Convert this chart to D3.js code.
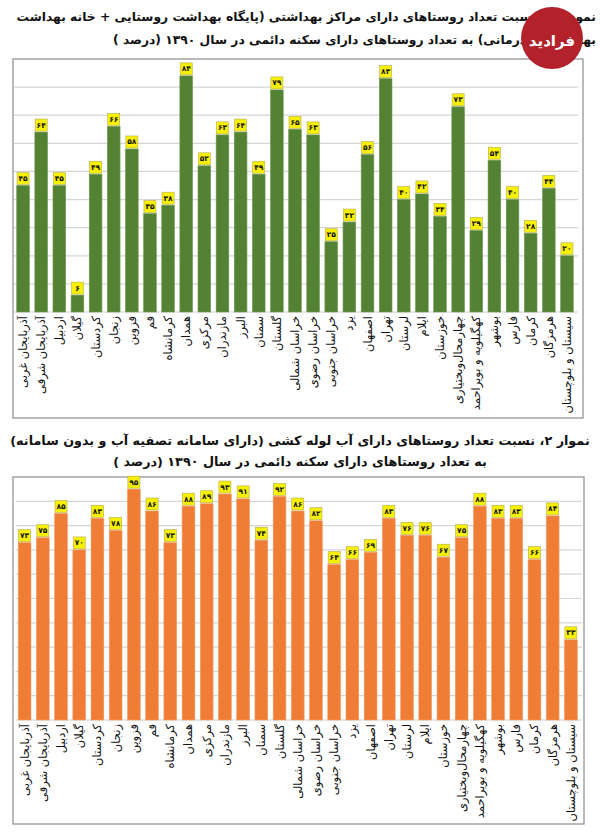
<!DOCTYPE html>
<html>
<head>
<meta charset="utf-8">
<script src="https://cdn.jsdelivr.net/npm/d3@7/dist/d3.min.js"></script>
<style>
  body { margin: 0; background: #fff; }
  svg { display: block; font-family: "DejaVu Sans", sans-serif; }
</style>
</head>
<body>
<div class="viz"></div>
<script>
// provinces, same order in both charts (left to right)
const provinces = [
  "آذربایجان غربی", "آذربایجان شرقی", "اردبیل", "گیلان", "کردستان", "زنجان", "قزوین", "قم",
  "کرمانشاه", "همدان", "مرکزی", "مازندران", "البرز", "سمنان", "گلستان", "خراسان شمالی",
  "خراسان رضوی", "خراسان جنوبی", "یزد", "اصفهان", "تهران", "لرستان", "ایلام", "خوزستان",
  "چهارمحال‌وبختیاری", "کهگیلویه و بویراحمد", "بوشهر", "فارس", "کرمان", "هرمزگان", "سیستان و بلوچستان"
];

// chart 1: villages with health centres (%)
const healthValues = [45, 64, 45, 6, 49, 66, 58, 35, 38, 84, 52, 63, 64, 49, 79, 65,
  63, 25, 32, 56, 83, 40, 42, 34, 73, 29, 54, 40, 28, 44, 20];

// chart 2: villages with piped water (%)
const waterValues = [73, 75, 85, 70, 83, 78, 95, 86, 73, 88, 89, 93, 91, 74, 92, 86,
  82, 64, 66, 69, 83, 76, 76, 67, 75, 88, 83, 83, 66, 84, 33];

const healthTicks = [10, 20, 30, 40, 50, 60, 70, 80];
const waterTicks = [10, 20, 30, 40, 50, 60, 70, 80, 90];

const title1 = [
  "نمودار ۱: نسبت تعداد روستاهای دارای مراکز بهداشتی (پایگاه بهداشت روستایی + خانه بهداشت",
  "بهداشتی و درمانی) به تعداد روستاهای دارای سکنه دائمی در سال ۱۳۹۰ (درصد )"
];
const title2 = [
  "نموار ۲، نسبت تعداد  روستاهای دارای آب لوله کشی (دارای سامانه تصفیه  آب  و بدون سامانه)",
  "به تعداد روستاهای دارای سکنه دائمی در سال ۱۳۹۰ (درصد )"
];

const faDigits = "۰۱۲۳۴۵۶۷۸۹";
const toFa = n => String(n).replace(/\d/g, d => faDigits[d]);

const W = 600, H = 838;

const svg = d3.select(".viz").append("svg")
  .attr("width", W)
  .attr("height", H);

// font size for a title block: its widest line must fit in `span` px
function fitSize(lines, span) {
  let widest = 0;
  lines.forEach(t => {
    const p = svg.append("text")
      .attr("font-size", 15).attr("font-weight", "bold")
      .text(t);
    widest = Math.max(widest, p.node().getComputedTextLength());
    p.remove();
  });
  return widest > 0 ? Math.min(16, 15 * span / widest) : 13;
}

function titleLine(t, x, cy, anchor, size) {
  svg.append("text")
    .attr("x", x)
    .attr("y", cy)
    .attr("text-anchor", anchor)
    .attr("dominant-baseline", "central")
    .attr("font-size", size)
    .attr("font-weight", "bold")
    .attr("fill", "#111")
    .text(t);
}

function drawChart(opt) {
  const g = svg.append("g");

  // frame
  g.append("rect")
    .attr("x", opt.box[0]).attr("y", opt.box[1])
    .attr("width", opt.box[2] - opt.box[0])
    .attr("height", opt.box[3] - opt.box[1])
    .attr("fill", "none")
    .attr("stroke", "#8c8c8c")
    .attr("stroke-width", 1.2);

  const x = d3.scaleBand()
    .domain(provinces)
    .range(opt.xRange)
    .paddingInner(0.3)
    .paddingOuter(0.15);

  const y = d3.scaleLinear()
    .domain([0, opt.yMax])
    .range([opt.base, opt.box[1]]);

  // gridlines
  g.append("g")
    .selectAll("line")
    .data(opt.ticks)
    .enter().append("line")
    .attr("x1", opt.xRange[0])
    .attr("x2", opt.xRange[1] + 2)
    .attr("y1", d => y(d))
    .attr("y2", d => y(d))
    .attr("stroke", "#d6d6d6")
    .attr("stroke-width", 1.2);

  g.append("line")
    .attr("x1", opt.xRange[0]).attr("x2", opt.xRange[1] + 2)
    .attr("y1", y(0)).attr("y2", y(0))
    .attr("stroke", "#d0d0d0");

  // bars
  g.append("g")
    .selectAll("rect")
    .data(opt.values)
    .enter().append("rect")
    .attr("x", (d, i) => x(provinces[i]))
    .attr("width", x.bandwidth())
    .attr("y", d => y(d))
    .attr("height", d => y(0) - y(d))
    .attr("fill", opt.color)
    .attr("stroke", opt.edge)
    .attr("stroke-width", 0.6);

  // value tags
  const tags = g.append("g")
    .selectAll("g")
    .data(opt.values)
    .enter().append("g")
    .attr("transform", (d, i) =>
      "translate(" + (x(provinces[i]) + x.bandwidth() / 2) + "," + (y(d) - 7) + ")");

  tags.append("rect")
    .attr("x", -6).attr("y", -6)
    .attr("width", 12).attr("height", 12)
    .attr("fill", "#f7f000")
    .attr("stroke", "#b5ad55")
    .attr("stroke-width", 0.6);

  tags.append("text")
    .attr("text-anchor", "middle")
    .attr("dominant-baseline", "central")
    .attr("font-size", 7.5)
    .attr("font-weight", "bold")
    .attr("fill", "#111")
    .text(d => toFa(d));

  // province names, rotated
  g.append("g")
    .selectAll("text")
    .data(provinces)
    .enter().append("text")
    .attr("transform", d =>
      "translate(" + (x(d) + x.bandwidth() / 2) + "," + (y(0) + 4) + ") rotate(-90)")
    .attr("text-anchor", "end")
    .attr("dominant-baseline", "central")
    .attr("font-size", 11.5)
    .attr("fill", "#111")
    .text(d => d);
}

const size1 = fitSize(title1, 580);
titleLine(title1[0], 596, 17, "end", size1);
titleLine(title1[1], 596, 40, "end", size1);

drawChart({
  values: healthValues,
  ticks: healthTicks,
  yMax: 90,
  box: [13, 59, 583, 418],
  base: 312,
  xRange: [14, 576],
  color: "#548235",
  edge: "#6f9a4f"
});

// watermark logo
const logo = svg.append("g").attr("transform", "translate(552,38)");
logo.append("circle").attr("r", 31).attr("fill", "#b3222b");
logo.append("text")
  .attr("text-anchor", "middle")
  .attr("dominant-baseline", "central")
  .attr("y", 3)
  .attr("font-size", 15)
  .attr("font-weight", "bold")
  .attr("fill", "#fff")
  .text("فرادید");

const size2 = fitSize(title2, 580);
titleLine(title2[0], 300, 440, "middle", size2);
titleLine(title2[1], 300, 461, "middle", size2);

drawChart({
  values: waterValues,
  ticks: waterTicks,
  yMax: 100,
  box: [13, 477, 584, 824],
  base: 720,
  xRange: [15.5, 580],
  color: "#ef7d36",
  edge: "#f39a60"
});
</script>
</body>
</html>
